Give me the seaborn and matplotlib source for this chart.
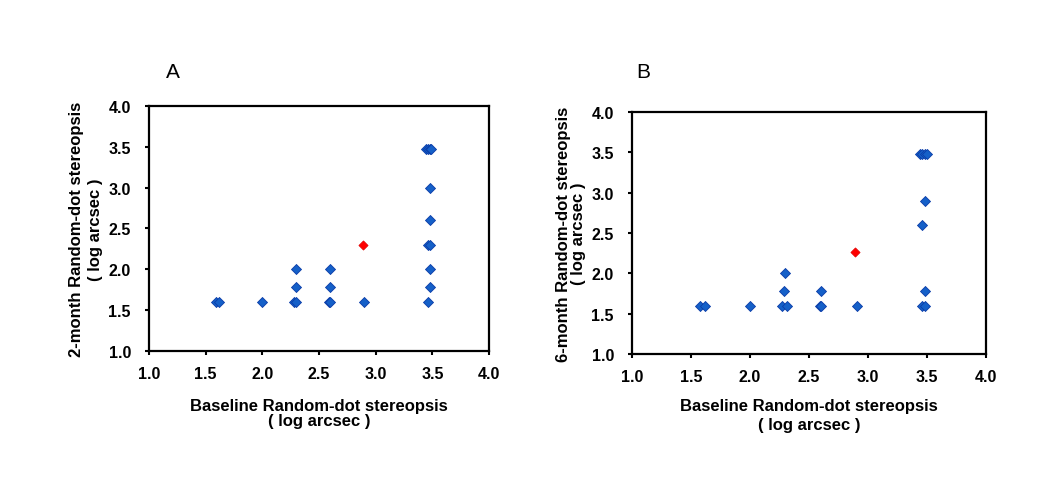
import matplotlib
matplotlib.use('Agg')
import matplotlib.pyplot as plt
import seaborn as sns
import pandas as pd

# 数据: 面板A (基线 vs 2个月)
a_base = [1.59, 1.62, 2.00, 2.28, 2.30, 2.30, 2.30, 2.59, 2.60, 2.60, 2.60, 2.90,
          3.46, 3.48, 3.48, 3.46, 3.48, 3.48, 3.48, 3.44, 3.46, 3.48, 3.49]
a_2m = [1.60, 1.60, 1.60, 1.60, 1.60, 1.78, 2.00, 1.60, 1.60, 1.78, 2.00, 1.60,
        1.60, 1.78, 2.00, 2.30, 2.30, 2.60, 3.00, 3.47, 3.47, 3.47, 3.47]
a_red_x = [2.89]
a_red_y = [2.30]

# 数据: 面板B (基线 vs 6个月)
b_base = [1.58, 1.62, 2.00, 2.27, 2.31, 2.29, 2.30, 2.59, 2.60, 2.60, 2.91,
          3.46, 3.48, 3.48, 3.46, 3.48, 3.44, 3.46, 3.48, 3.50]
b_6m = [1.60, 1.60, 1.60, 1.60, 1.60, 1.78, 2.00, 1.60, 1.60, 1.78, 1.60,
        1.60, 1.60, 1.78, 2.60, 2.90, 3.48, 3.48, 3.48, 3.48]
b_red_x = [2.89]
b_red_y = [2.27]

ticks = [1.0, 1.5, 2.0, 2.5, 3.0, 3.5, 4.0]
tick_labels = ['1.0', '1.5', '2.0', '2.5', '3.0', '3.5', '4.0']

sns.set_theme(style='ticks')
plt.rcParams['font.family'] = ['Liberation Sans', 'DejaVu Sans']
plt.rcParams['text.color'] = 'black'
plt.rcParams['axes.labelcolor'] = 'black'

fig = plt.figure(figsize=(10.44, 4.89), dpi=100)
ax_a = fig.add_axes([0.1427, 0.2802, 0.3257, 0.501])
ax_b = fig.add_axes([0.6054, 0.274, 0.3391, 0.4949])

blue = '#1560C8'
edge = '#0A3CA8'


def draw_panel(ax, xs, ys, rx, ry, ylab, xpad, ypad, xls, yls):
    df = pd.DataFrame({'x': xs, 'y': ys})
    sns.scatterplot(data=df, x='x', y='y', ax=ax, marker='D', s=26,
                    color=blue, edgecolor=edge, linewidth=0.6, zorder=3)
    red = pd.DataFrame({'x': rx, 'y': ry})
    sns.scatterplot(data=red, x='x', y='y', ax=ax, marker='D', s=22,
                    color='#FF0000', edgecolor='#E00000', linewidth=0.5, zorder=4)
    ax.set_xlim(1.0, 4.0)
    ax.set_ylim(1.0, 4.0)
    ax.set_xticks(ticks)
    ax.set_yticks(ticks)
    ax.set_xticklabels(tick_labels, fontsize=11.5, fontweight='bold')
    ax.set_yticklabels(tick_labels, fontsize=11.5, fontweight='bold')
    for s in ax.spines.values():
        s.set_visible(True)
        s.set_linewidth(1.6)
        s.set_color('black')
    ax.tick_params(direction='out', length=3, width=1.5, colors='black',
                   labelcolor='black')
    ax.tick_params(axis='x', pad=8)
    ax.tick_params(axis='y', pad=10)
    ax.set_xlabel('Baseline Random-dot stereopsis\n( log arcsec )',
                  fontsize=12, fontweight='bold', labelpad=xpad, linespacing=xls)
    ax.set_ylabel(ylab + '\n( log arcsec )',
                  fontsize=12, fontweight='bold', labelpad=ypad, linespacing=yls)


draw_panel(ax_a, a_base, a_2m, a_red_x, a_red_y,
           '2-month Random-dot stereopsis', 12, 3.6, 1.0, 1.4)
draw_panel(ax_b, b_base, b_6m, b_red_x, b_red_y,
           '6-month Random-dot stereopsis', 10, 4, 1.3, 1.0)

# 面板字母
fig.text(173 / 1044, 1 - 72 / 489, 'A', fontsize=15, ha='center', va='center')
fig.text(643 / 1044, 1 - 72 / 489, 'B', fontsize=15, ha='center', va='center')

fig.savefig('out.png', dpi=100)
